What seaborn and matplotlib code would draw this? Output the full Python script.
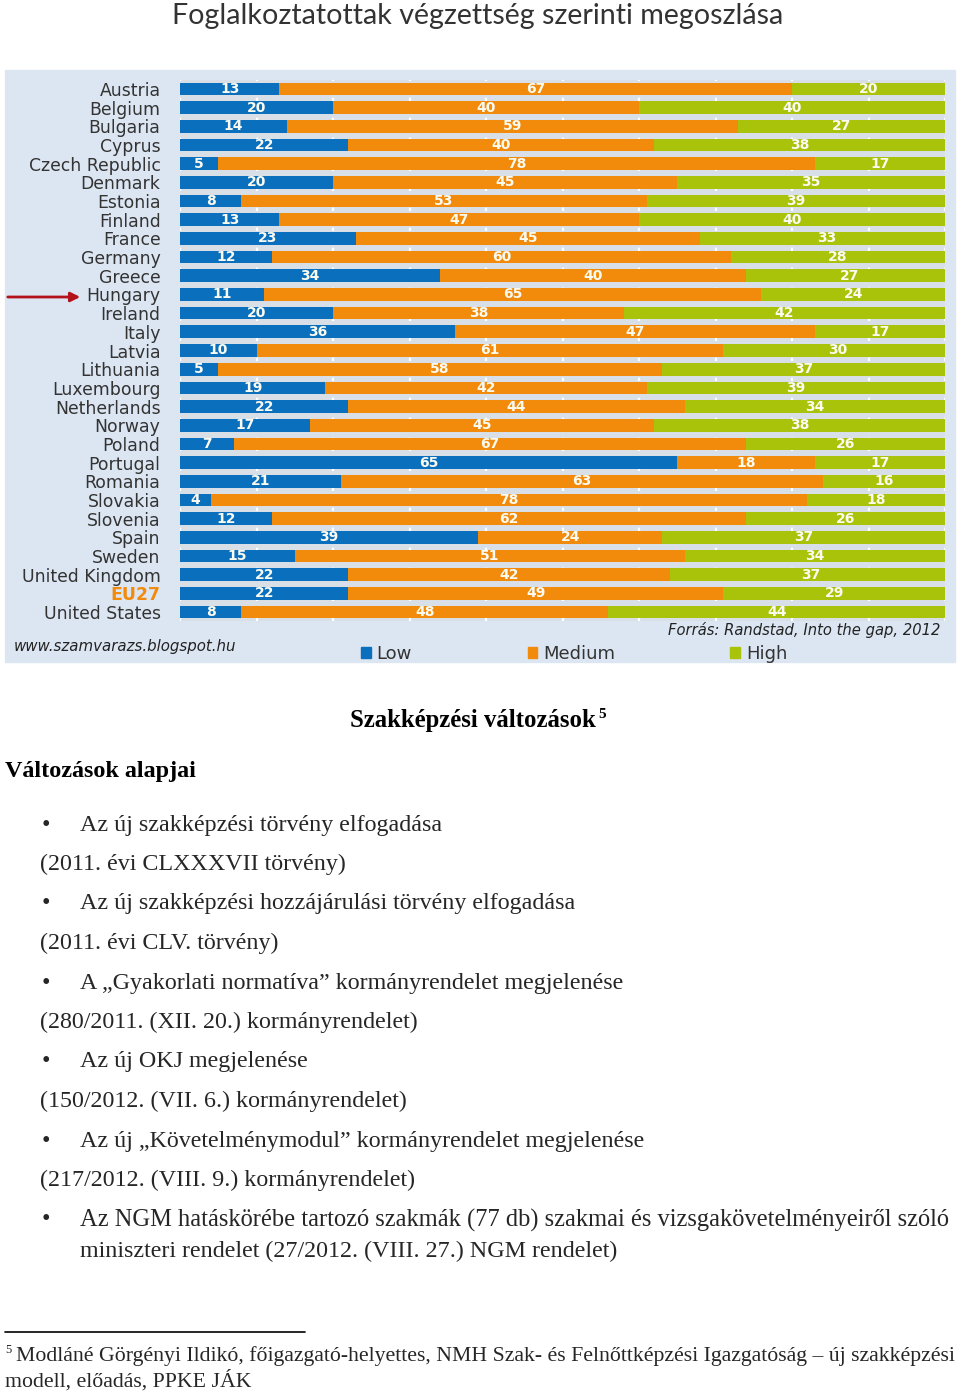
import matplotlib
matplotlib.use("Agg")
import matplotlib.pyplot as plt
import matplotlib.patches as mpatches
import numpy as np
import pandas as pd
import seaborn as sns

# ---------------- data ----------------
countries = ["Austria", "Belgium", "Bulgaria", "Cyprus", "Czech Republic", "Denmark",
             "Estonia", "Finland", "France", "Germany", "Greece", "Hungary", "Ireland",
             "Italy", "Latvia", "Lithuania", "Luxembourg", "Netherlands", "Norway",
             "Poland", "Portugal", "Romania", "Slovakia", "Slovenia", "Spain", "Sweden",
             "United Kingdom", "EU27", "United States"]
low = [13, 20, 14, 22, 5, 20, 8, 13, 23, 12, 34, 11, 20, 36, 10, 5, 19, 22, 17, 7,
       65, 21, 4, 12, 39, 15, 22, 22, 8]
medium = [67, 40, 59, 40, 78, 45, 53, 47, 45, 60, 40, 65, 38, 47, 61, 58, 42, 44, 45,
          67, 18, 63, 78, 62, 24, 51, 42, 49, 48]
high = [20, 40, 27, 38, 17, 35, 39, 40, 33, 28, 27, 24, 42, 17, 30, 37, 39, 34, 38, 26,
        17, 16, 18, 26, 37, 34, 37, 29, 44]
series_names = ["Low", "Medium", "High"]

chart_title = "Foglalkoztatottak végzettség szerinti megoszlása"
source_text = "Forrás: Randstad, Into the gap, 2012"
web_text = "www.szamvarazs.blogspot.hu"

section_title = "Szakképzési változások"
sub_title = "Változások alapjai"
bullets = [
    ("Az új szakképzési törvény elfogadása", "(2011. évi CLXXXVII törvény)"),
    ("Az új szakképzési hozzájárulási törvény elfogadása", "(2011. évi CLV. törvény)"),
    ("A „Gyakorlati normatíva” kormányrendelet megjelenése", "(280/2011. (XII. 20.) kormányrendelet)"),
    ("Az új OKJ megjelenése", "(150/2012. (VII. 6.) kormányrendelet)"),
    ("Az új „Követelménymodul” kormányrendelet megjelenése", "(217/2012. (VIII. 9.) kormányrendelet)"),
]
last_bullet = ["Az NGM hatáskörébe tartozó szakmák (77 db) szakmai és vizsgakövetelményeiről szóló",
               "miniszteri rendelet (27/2012. (VIII. 27.) NGM rendelet)"]
footnote = ["Modláné Görgényi Ildikó, főigazgató-helyettes, NMH Szak- és Felnőttképzési Igazgatóság – új szakképzési",
            "modell, előadás, PPKE JÁK"]

# ---------------- style ----------------
colors = {"Low": "#0a6fbd", "Medium": "#f28a0c", "High": "#a9c20a"}
W, H = 960, 1393
sns.set_theme(style="white")
plt.rcParams["font.family"] = ["DejaVu Sans"]

fig = plt.figure(figsize=(W / 100, H / 100), dpi=100)
fig.patch.set_facecolor("white")

def fx(x):
    return x / W

def fy(y):
    return 1 - y / H

# chart background panel
fig.patches.append(mpatches.Rectangle((fx(5), fy(662)), fx(950), 592 / H,
                                      transform=fig.transFigure, color="#dce6f2", zorder=-5))

row_h = (612 - 89) / (len(countries) - 1)
ax_top = 89 - row_h / 2
ax_bot = 612 + row_h / 2
ax = fig.add_axes([fx(180), fy(ax_bot), fx(945) - fx(180), (ax_bot - ax_top) / H])
ax.set_zorder(2)
ax.set_facecolor("#d9dfe6")

df = pd.DataFrame({"country": countries, "Low": low, "Medium": medium, "High": high})
df["c_low"] = df["Low"]
df["c_med"] = df["Low"] + df["Medium"]
df["c_high"] = df["Low"] + df["Medium"] + df["High"]

for col, name in [("c_high", "High"), ("c_med", "Medium"), ("c_low", "Low")]:
    sns.barplot(data=df, x=col, y="country", orient="h", color=colors[name],
                width=0.68, saturation=1, ax=ax, zorder=3, linewidth=0)

# value labels centred in segments
for i, r in df.iterrows():
    starts = [0, r["Low"], r["Low"] + r["Medium"]]
    for s, v in zip(starts, [r["Low"], r["Medium"], r["High"]]):
        ax.text(s + v / 2, i, f"{v}", ha="center", va="center", color="#fbfbf0",
                fontsize=10, fontweight="bold", zorder=5)

ax.set_xlim(0, 100)
ax.set_ylim(len(countries) - 0.5, -0.5)
ax.set_xticks(np.arange(0, 101, 10))
ax.xaxis.grid(True, color="white", linestyle=(0, (1.5, 3)), linewidth=1.6, zorder=1)
ax.set_axisbelow(True)
ax.tick_params(axis="x", length=0, labelbottom=False)
ax.tick_params(axis="y", length=0, pad=14, labelsize=12.4, labelcolor="#333333")
ax.set_xlabel("")
ax.set_ylabel("")
for sp in ax.spines.values():
    sp.set_visible(False)
for lab in ax.get_yticklabels():
    if lab.get_text() == "EU27":
        lab.set_color("#f28a0c")
        lab.set_fontweight("bold")

# legend
handles = [mpatches.Patch(color=colors[n], label=n) for n in series_names]
fig.legend(handles=handles, loc="center left", bbox_to_anchor=(fx(345), fy(654)),
           ncol=3, frameon=False, fontsize=13, handlelength=0.55, handleheight=0.55,
           handletextpad=0.3, columnspacing=6.4, labelcolor="#333333")

# source texts
fig.text(fx(940), fy(630), source_text, ha="right", va="center", fontsize=10.6,
         style="italic", color="#222222")
fig.text(fx(14), fy(647), web_text, ha="left", va="center", fontsize=10.8,
         style="italic", color="#222222")

# arrow to Hungary
fig.add_artist(matplotlib.patches.FancyArrowPatch((fx(5), fy(297)), (fx(83), fy(297)),
               transform=fig.transFigure, arrowstyle="-|>", mutation_scale=14,
               color="#b3121b", linewidth=2))

# chart title
fig.text(fx(478), fy(16), chart_title, ha="center", va="center", fontsize=20.6,
         family="Lato", color="#333333")

# ---------------- document text ----------------
serif = "Liberation Serif"
body_fs = 17.3
fig.text(fx(350), fy(720), section_title, ha="left", va="center", fontsize=17.8,
         family=serif, fontweight="bold", color="black")
fig.text(fx(598), fy(714), "5", ha="left", va="center", fontsize=11,
         family=serif, fontweight="bold", color="black")
fig.text(fx(5), fy(772), sub_title, ha="left", va="center", fontsize=17.4,
         family=serif, fontweight="bold", color="black")

y = 825
for main, sub in bullets:
    fig.text(fx(42), fy(y), "•", ha="left", va="center", fontsize=body_fs, family=serif)
    fig.text(fx(80), fy(y), main, ha="left", va="center", fontsize=body_fs, family=serif)
    fig.text(fx(40), fy(y + 39.5), sub, ha="left", va="center", fontsize=body_fs, family=serif)
    y += 79
fig.text(fx(42), fy(1220), "•", ha="left", va="center", fontsize=body_fs, family=serif)
fig.text(fx(80), fy(1220), last_bullet[0], ha="left", va="center", fontsize=body_fs + 0.35,
         family=serif)
fig.text(fx(80), fy(1251), last_bullet[1], ha="left", va="center", fontsize=body_fs, family=serif)

# footnote
fig.add_artist(plt.Line2D([fx(5), fx(305)], [fy(1332), fy(1332)], transform=fig.transFigure,
                          color="black", linewidth=1.2))
fig.text(fx(5), fy(1350), "5", ha="left", va="center", fontsize=9, family=serif)
fig.text(fx(16), fy(1356), footnote[0], ha="left", va="center", fontsize=15.7, family=serif)
fig.text(fx(5), fy(1381), footnote[1], ha="left", va="center", fontsize=15.7, family=serif)

fig.savefig("out.png", dpi=100)
